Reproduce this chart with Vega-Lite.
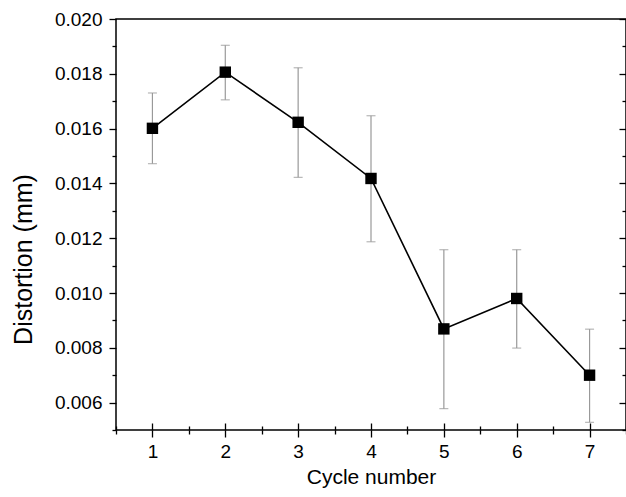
{
  "$schema": "https://vega.github.io/schema/vega-lite/v6.json",
  "width": 510,
  "height": 411,
  "autosize": "none",
  "padding": {"left": 116, "top": 19, "right": 0, "bottom": 67},
  "background": "white",
  "config": {
    "font": "Liberation Sans",
    "view": {"stroke": "black", "strokeWidth": 1.5},
    "axis": {"domain": false, "grid": false, "tickColor": "black", "tickWidth": 1.3, "labelColor": "black", "titleColor": "black", "labelFont": "Liberation Sans", "titleFont": "Liberation Sans", "titleFontWeight": "normal"}
  },
  "data": {
    "values": [
      {"cycle": 1, "d": 0.01601, "lo": 0.01472, "hi": 0.01730},
      {"cycle": 2, "d": 0.01806, "lo": 0.01705, "hi": 0.01904},
      {"cycle": 3, "d": 0.01623, "lo": 0.01422, "hi": 0.01822},
      {"cycle": 4, "d": 0.01418, "lo": 0.01187, "hi": 0.01647},
      {"cycle": 5, "d": 0.00869, "lo": 0.00578, "hi": 0.01158},
      {"cycle": 6, "d": 0.00980, "lo": 0.00799, "hi": 0.01158},
      {"cycle": 7, "d": 0.00700, "lo": 0.00528, "hi": 0.00868}
    ]
  },
  "resolve": {"axis": {"x": "independent", "y": "independent"}},
  "layer": [
    {
      "mark": {"type": "rule", "color": "#999999", "strokeWidth": 1.2},
      "encoding": {
        "x": {"field": "cycle", "type": "quantitative", "scale": {"domain": [0.5, 7.5], "nice": false, "zero": false},
          "axis": {"orient": "bottom", "values": [0.5, 1, 1.5, 2, 2.5, 3, 3.5, 4, 4.5, 5, 5.5, 6, 6.5, 7, 7.5],
            "tickSize": {"condition": {"test": "datum.value % 1 == 0", "value": 7}, "value": 4},
            "labelExpr": "datum.value % 1 == 0 ? format(datum.value, 'd') : ''",
            "labelFontSize": 19, "labelPadding": 5, "title": "Cycle number", "titleFontSize": 21, "titlePadding": 5}},
        "y": {"field": "lo", "type": "quantitative", "scale": {"domain": [0.005, 0.020], "nice": false, "zero": false},
          "axis": {"orient": "left", "values": [0.005, 0.006, 0.007, 0.008, 0.009, 0.010, 0.011, 0.012, 0.013, 0.014, 0.015, 0.016, 0.017, 0.018, 0.019, 0.020],
            "format": ".3f",
            "tickSize": {"condition": {"test": "round(datum.value*1000) % 2 == 0", "value": 7}, "value": 4},
            "labelExpr": "round(datum.value*1000) % 2 == 0 ? datum.label : ''",
            "labelFontSize": 19, "labelPadding": 7, "title": "Distortion (mm)", "titleFontSize": 25, "titlePadding": 18, "titleY": 240}},
        "y2": {"field": "hi"}
      }
    },
    {
      "mark": {"type": "tick", "orient": "horizontal", "color": "#999999", "size": 9, "thickness": 1.2},
      "encoding": {
        "x": {"field": "cycle", "type": "quantitative", "scale": {"domain": [0.5, 7.5], "nice": false, "zero": false},
          "axis": {"orient": "top", "values": [0.5, 1, 1.5, 2, 2.5, 3, 3.5, 4, 4.5, 5, 5.5, 6, 6.5, 7, 7.5],
            "ticks": false, "labelOpacity": 0, "title": " ",
            "grid": true, "gridColor": "black", "gridWidth": 1.3, "gridOpacity": 1,
            "gridDash": {"condition": {"test": "datum.value % 1 == 0", "value": [7, 1000]}, "value": [4, 1000]}}},
        "y": {"field": "hi", "type": "quantitative", "scale": {"domain": [0.005, 0.020], "nice": false, "zero": false},
          "axis": {"orient": "left", "offset": -510, "values": [0.005, 0.006, 0.007, 0.008, 0.009, 0.010, 0.011, 0.012, 0.013, 0.014, 0.015, 0.016, 0.017, 0.018, 0.019, 0.020],
            "tickSize": {"condition": {"test": "round(datum.value*1000) % 2 == 0", "value": 7}, "value": 4},
            "labels": false, "title": null}}
      }
    },
    {
      "mark": {"type": "tick", "orient": "horizontal", "color": "#999999", "size": 9, "thickness": 1.2},
      "encoding": {
        "x": {"field": "cycle", "type": "quantitative", "axis": null},
        "y": {"field": "lo", "type": "quantitative", "axis": null}
      }
    },
    {
      "mark": {"type": "line", "color": "black", "strokeWidth": 1.6},
      "encoding": {
        "x": {"field": "cycle", "type": "quantitative", "axis": null},
        "y": {"field": "d", "type": "quantitative", "axis": null}
      }
    },
    {
      "mark": {"type": "point", "shape": "square", "filled": true, "color": "black", "opacity": 1, "size": 130},
      "encoding": {
        "x": {"field": "cycle", "type": "quantitative", "axis": null},
        "y": {"field": "d", "type": "quantitative", "axis": null}
      }
    }
  ]
}
